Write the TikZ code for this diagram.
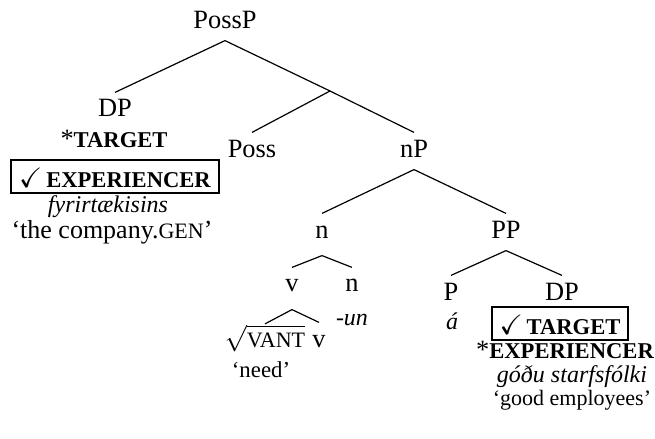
\RequirePackage{fix-cm}
\documentclass[tikz,border=0pt]{standalone}
\usepackage{fontspec}
\usepackage{amssymb}
\setmainfont{Liberation Serif}
\newcommand{\catfont}{\fontsize{13.2}{15}\selectfont}
\newcommand{\featfont}{\fontsize{11.3}{13}\selectfont\bfseries}
\newcommand{\glossfont}{\fontsize{12}{14}\selectfont}
\newcommand{\smcaps}[1]{{\fontsize{11}{12}\selectfont #1}}
\newcommand{\chk}{{\fontsize{14}{16}\selectfont$\checkmark$}}

\begin{document}
\begin{tikzpicture}[x=0.5pt,y=-0.5pt,line width=0.6pt,
  cat/.style={anchor=base,font=\catfont,text height=8.5pt,text depth=2.5pt,inner xsep=1pt,inner ysep=3.5pt},
  lc/.style={text depth=5pt},
  txt/.style={anchor=base,inner sep=0pt,font=\glossfont},
  feat/.style={anchor=base,inner sep=0pt,font=\featfont},
  boxed/.style={feat,draw,line width=1pt,text height=10.2pt,text depth=0pt,inner xsep=4pt,inner ysep=3.2pt}]
\useasboundingbox (0,0) rectangle (655,439);
\node[cat] (possp) at (225,28) {PossP};
\node[cat] (dpA) at (115,117) {DP};
\coordinate (bar) at (330,91);
\node[cat] (poss) at (252,157) {Poss};
\node[cat] (nP) at (414,157) {nP};
\node[cat,lc] (n1) at (322,238) {n};
\node[cat] (PP) at (506,238) {PP};
\node[cat,lc] (v1) at (292,292) {v};
\node[cat] (n2) at (352,292) {n};
\node[cat] (P) at (451,300) {P};
\node[cat] (dpB) at (562,300) {DP};
\node[anchor=base,inner sep=0pt,font=\catfont] (vant) at (265,347) {$\sqrt{\hbox{\smcaps{VANT}}}$};
\node[cat] (v2) at (319,347) {v};
\draw (possp.south) -- (dpA.north);
\draw (possp.south) -- (bar) -- (nP.north);
\draw (bar) -- (poss.north);
\draw (nP.south) -- (n1.north);
\draw (nP.south) -- (PP.north);
\draw (n1.south) -- (v1.north);
\draw (n1.south) -- (n2.north);
\draw (v1.south) -- (vant.north);
\draw (v1.south) -- (v2.north);
\draw (PP.south) -- (P.north);
\draw (PP.south) -- (dpB.north);
% left DP
\node[feat] (tgtA) at (114,148) {{\mdseries\catfont*}TARGET};
\node[boxed] (expA) at (115,187) {\chk\,EXPERIENCER};
\node[txt,font=\glossfont\itshape] (fyrA) at (108,213) {fyrirtækisins};
\node[txt,font=\fontsize{13}{15}\selectfont] (glA) at (112,238) {‘the company.\smcaps{GEN}’};
% right DP
\node[txt,font=\glossfont\itshape] (aP) at (452,329) {á};
\node[boxed] (tgtB) at (560,334) {\chk\,TARGET};
\node[feat] (expB) at (565,358) {{\mdseries\catfont*}EXPERIENCER};
\node[txt,font=\glossfont\itshape] (gooB) at (572,382) {góðu starfsfólki};
\node[txt,font=\fontsize{11}{13}\selectfont] (glB) at (572,405) {‘good employees’};
\node[txt,font=\glossfont\itshape] (un) at (352,325) {-un};
\node[txt,font=\fontsize{11.4}{13}\selectfont] (need) at (261,377) {‘need’};
\end{tikzpicture}
\end{document}
